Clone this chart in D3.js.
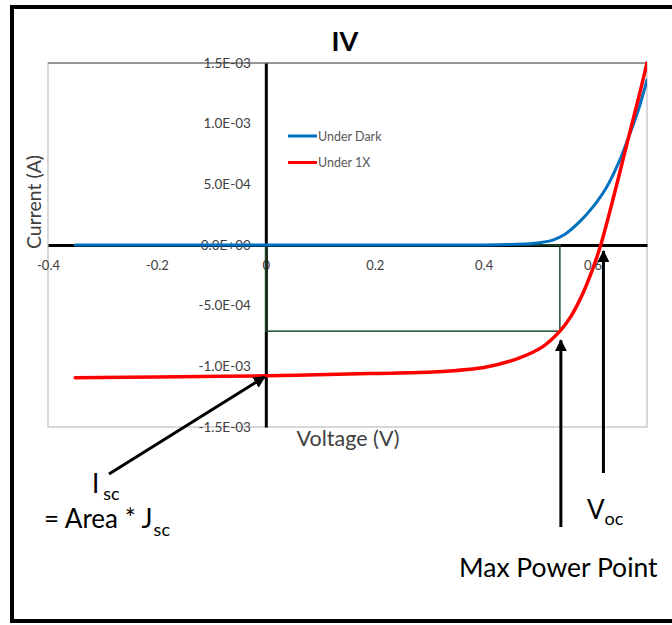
<!DOCTYPE html>
<html>
<head>
<meta charset="utf-8">
<script src="https://cdn.jsdelivr.net/npm/d3@7"></script>
<style>
  body { margin: 0; background: #fff; }
  svg { font-family: Lato, "Open Sans", sans-serif; }
</style>
</head>
<body>
<div class="chart"></div>
<script>
var width = 672
var height = 625

// readings (volts, amps)
var darkV = [-0.35, 0, 0.2, 0.4, 0.45, 0.49, 0.527, 0.55, 0.576, 0.6, 0.625, 0.65, 0.668, 0.686, 0.7]
var darkI = [0, 0, 0, 0.001e-3, 0.005e-3, 0.012e-3, 0.04e-3, 0.09e-3, 0.19e-3, 0.31e-3, 0.47e-3, 0.70e-3, 0.91e-3, 1.14e-3, 1.36e-3]

var lightV = [-0.35, -0.2, 0, 0.19, 0.314, 0.405, 0.466, 0.508, 0.54, 0.56, 0.58, 0.6, 0.615, 0.64, 0.664, 0.685, 0.7]
var lightI = [-1.094e-3, -1.088e-3, -1.078e-3, -1.06e-3, -1.045e-3, -1.005e-3, -0.93e-3, -0.84e-3, -0.71e-3, -0.59e-3, -0.42e-3, -0.2e-3, 0, 0.42e-3, 0.85e-3, 1.22e-3, 1.5e-3]

var seriesNames = ["Under Dark", "Under 1X"]
var seriesColors = ["#0070C0", "#FF0000"]

var xTicks = [-0.4, -0.2, 0, 0.2, 0.4, 0.6]
var xTickLabels = ["-0.4", "-0.2", "0", "0.2", "0.4", "0.6"]
var yTicks = [-1.5e-3, -1.0e-3, -5.0e-4, 0, 5.0e-4, 1.0e-3, 1.5e-3]
var yTickLabels = ["-1.5E-03", "-1.0E-03", "-5.0E-04", "0.0E+00", "5.0E-04", "1.0E-03", "1.5E-03"]

// annotated points
var mpp = {v: 0.54, i: -0.71e-3}
var voc = 0.62
var isc = -1.078e-3

var svg = d3.select('.chart')
    .append('svg')
    .attr("width", width)
    .attr("height", height)

var defs = svg.append("defs")
defs.append("marker")
    .attr("id", "head")
    .attr("markerUnits", "userSpaceOnUse")
    .attr("viewBox", "0 0 12 12")
    .attr("refX", 11)
    .attr("refY", 6)
    .attr("markerWidth", 12)
    .attr("markerHeight", 12)
    .attr("orient", "auto")
    .append("path")
    .attr("d", "M0,0 L12,6 L0,12 Z")
    .attr("fill", "#000")

// outer frame
svg.append("rect")
    .attr("x", 12)
    .attr("y", 7)
    .attr("width", 700)
    .attr("height", 614)
    .attr("fill", "none")
    .attr("stroke", "#000")
    .attr("stroke-width", 4)

var plot = {left: 48, right: 647, top: 63, bottom: 427}

var x = d3.scaleLinear()
    .domain([-0.4, 0.7])
    .range([plot.left, plot.right])

var y = d3.scaleLinear()
    .domain([-1.5e-3, 1.5e-3])
    .range([plot.bottom, plot.top])

// plot area border
svg.append("rect")
    .attr("x", plot.left)
    .attr("y", plot.top)
    .attr("width", plot.right - plot.left)
    .attr("height", plot.bottom - plot.top)
    .attr("fill", "none")
    .attr("stroke", "#b0b0b0")
    .attr("stroke-width", 1)
svg.append("line")
    .attr("x1", plot.left).attr("x2", plot.right)
    .attr("y1", plot.top).attr("y2", plot.top)
    .attr("stroke", "#555")

// title
svg.append("text")
    .attr("x", 345)
    .attr("y", 51)
    .attr("text-anchor", "middle")
    .attr("font-size", 27)
    .attr("font-weight", "bold")
    .attr("fill", "#000")
    .text("IV")

var xAxis = svg.append("g")
    .attr("transform", "translate(0," + y(0) + ")")
    .call(d3.axisBottom(x)
        .tickValues(xTicks)
        .tickFormat(function(d, i){ return xTickLabels[i] })
        .tickSize(0)
        .tickPadding(16))
xAxis.select(".domain").attr("stroke", "#000").attr("stroke-width", 3)
xAxis.selectAll("text")
    .attr("font-size", 13)
    .attr("font-family", "Lato, sans-serif")
    .attr("fill", "#404040")

var yAxis = svg.append("g")
    .attr("transform", "translate(" + x(0) + ",0)")
    .call(d3.axisLeft(y)
        .tickValues(yTicks)
        .tickFormat(function(d, i){ return yTickLabels[i] })
        .tickSize(0)
        .tickPadding(15))
yAxis.select(".domain").attr("stroke", "#000").attr("stroke-width", 3)
yAxis.selectAll("text")
    .attr("font-size", 13.5)
    .attr("font-family", "Lato, sans-serif")
    .attr("fill", "#404040")

// axis titles
svg.append("text")
    .attr("transform", "translate(33,202) rotate(-90)")
    .attr("text-anchor", "middle")
    .attr("dominant-baseline", "central")
    .attr("font-size", 19.5)
    .attr("fill", "#404040")
    .text("Current (A)")

svg.append("text")
    .attr("x", 348)
    .attr("y", 438)
    .attr("text-anchor", "middle")
    .attr("dominant-baseline", "central")
    .attr("font-size", 21.5)
    .attr("fill", "#404040")
    .text("Voltage (V)")

// max power rectangle
svg.append("rect")
    .attr("x", x(0))
    .attr("y", y(0))
    .attr("width", x(mpp.v) - x(0))
    .attr("height", y(mpp.i) - y(0))
    .attr("fill", "none")
    .attr("stroke", "#1E4D2F")
    .attr("stroke-width", 1.5)

var line = d3.line()
    .x(function(d){ return x(d[0]) })
    .y(function(d){ return y(d[1]) })
    .curve(d3.curveCatmullRom.alpha(0.5))

var series = [d3.zip(darkV, darkI), d3.zip(lightV, lightI)]

svg.append("defs").append("clipPath")
    .attr("id", "clip")
    .append("rect")
    .attr("x", plot.left).attr("y", plot.top - 2)
    .attr("width", plot.right - plot.left).attr("height", plot.bottom - plot.top + 4)

svg.append("g")
    .attr("clip-path", "url(#clip)")
    .selectAll("path")
    .data(series)
    .enter()
    .append("path")
    .attr("d", line)
    .attr("fill", "none")
    .attr("stroke", function(d, i){ return seriesColors[i] })
    .attr("stroke-width", function(d, i){ return i == 0 ? 3 : 3.5 })
    .attr("stroke-linecap", "round")

// legend
var legend = svg.append("g")
    .selectAll("g")
    .data(seriesNames)
    .enter()
    .append("g")
    .attr("transform", function(d, i){ return "translate(288," + (136 + i * 26.5) + ")" })
legend.append("line")
    .attr("x1", 0).attr("x2", 29)
    .attr("stroke", function(d, i){ return seriesColors[i] })
    .attr("stroke-width", 3)
legend.append("text")
    .attr("x", 30)
    .attr("dominant-baseline", "central")
    .attr("font-size", 12.5)
    .attr("fill", "#595959")
    .text(function(d){ return d })

// annotation arrows
function arrow(x1, y1, x2, y2){
    svg.append("line")
        .attr("x1", x1).attr("y1", y1)
        .attr("x2", x2).attr("y2", y2)
        .attr("stroke", "#000")
        .attr("stroke-width", 3)
        .attr("marker-end", "url(#head)")
}
arrow(109, 474, x(0) - 1, y(isc) + 1)
arrow(x(mpp.v) + 1, 527, x(mpp.v) + 1, y(mpp.i) + 9)
arrow(x(voc), 473, x(voc), y(0) + 6)

// annotation text
var isclabel = svg.append("text")
    .attr("x", 92)
    .attr("y", 493)
    .attr("font-size", 26)
    .attr("fill", "#000")
isclabel.append("tspan").text("I")
isclabel.append("tspan").attr("dx", 4).attr("dy", 7).attr("font-size", 18).text("sc")

var arealabel = svg.append("text")
    .attr("x", 44)
    .attr("y", 528)
    .attr("font-size", 26)
    .attr("fill", "#000")
arealabel.append("tspan").text("= Area * J")
arealabel.append("tspan").attr("dx", 1).attr("dy", 8).attr("font-size", 18).text("sc")

var voclabel = svg.append("text")
    .attr("x", 587)
    .attr("y", 519)
    .attr("font-size", 26)
    .attr("fill", "#000")
voclabel.append("tspan").text("V")
voclabel.append("tspan").attr("dy", 6).attr("font-size", 18).text("oc")

svg.append("text")
    .attr("x", 459)
    .attr("y", 577)
    .attr("font-size", 26.5)
    .attr("fill", "#000")
    .text("Max Power Point")
</script>
</body>
</html>
